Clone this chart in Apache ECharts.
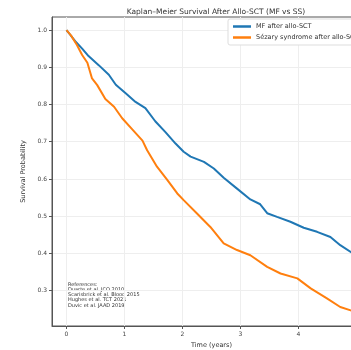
<!DOCTYPE html>
<html>
<head>
<meta charset="utf-8">
<script src="https://cdn.jsdelivr.net/npm/echarts@6/dist/echarts.min.js"></script>
<style>
  html, body { margin: 0; padding: 0; background: #fff; }
  #chart { width: 351px; height: 350px; }
</style>
</head>
<body>
<div id="chart"></div>
<script>
// time (years) / survival
var mfTime = [0, 0.05, 0.15, 0.27, 0.38, 0.56, 0.73, 0.85, 1.02, 1.19, 1.36, 1.53, 1.71, 1.88, 2.02, 2.14, 2.37, 2.54, 2.71, 2.94, 3.17, 3.34, 3.46, 3.63, 3.86, 4.09, 4.32, 4.55, 4.72, 4.9, 5.0];
var mfSurv = [1.0, 0.99, 0.97, 0.95, 0.93, 0.905, 0.88, 0.853, 0.83, 0.807, 0.79, 0.755, 0.725, 0.695, 0.673, 0.66, 0.646, 0.628, 0.603, 0.574, 0.545, 0.532, 0.508, 0.498, 0.485, 0.469, 0.458, 0.444, 0.422, 0.404, 0.395];
var ssTime = [0, 0.08, 0.18, 0.27, 0.36, 0.44, 0.53, 0.67, 0.82, 0.96, 1.13, 1.31, 1.39, 1.56, 1.74, 1.91, 2.02, 2.25, 2.48, 2.71, 2.94, 3.17, 3.46, 3.69, 3.98, 4.21, 4.49, 4.72, 4.9, 5.0];
var ssSurv = [1.0, 0.985, 0.96, 0.933, 0.912, 0.87, 0.852, 0.815, 0.794, 0.763, 0.734, 0.703, 0.677, 0.633, 0.597, 0.561, 0.543, 0.507, 0.471, 0.427, 0.409, 0.395, 0.364, 0.346, 0.333, 0.306, 0.279, 0.256, 0.247, 0.24];
var xTicks = [0, 1, 2, 3, 4, 5];
var yTicks = [0.3, 0.4, 0.5, 0.6, 0.7, 0.8, 0.9, 1.0];
var references = ['References:', 'Duarte et al. JCO 2010', 'Scarisbrick et al. Blood 2015', 'Hughes et al. TCT 2021', 'Duvic et al. JAAD 2019'];

function pairs(xs, ys) {
  return xs.map(function (x, i) { return [x, ys[i]]; });
}

var font = 'DejaVu Sans';
var chart = echarts.init(document.getElementById('chart'));
chart.setOption({
  animation: false,
  textStyle: { fontFamily: font },
  title: {
    text: 'Kaplan\u2013Meier Survival After Allo-SCT (MF vs SS)',
    left: 211, top: 3, textAlign: 'center',
    textStyle: { fontSize: 7.5, fontWeight: 'normal', color: '#333', fontFamily: font }
  },
  legend: {
    left: 228, top: 19, orient: 'vertical',
    icon: 'rect', itemWidth: 18, itemHeight: 2.5, itemGap: 4,
    padding: [4, 5], backgroundColor: '#fff',
    borderColor: '#ddd', borderWidth: 1, borderRadius: 2,
    textStyle: { fontSize: 6.5, color: '#333', fontFamily: font }
  },
  grid: {
    left: 52, top: 17, width: 319, height: 309,
    outerBoundsMode: 'none', containLabel: false,
    show: true, borderColor: '#555', borderWidth: 1
  },
  xAxis: {
    type: 'value', min: -0.25, max: 5.25,
    name: 'Time (years)', nameLocation: 'middle', nameGap: 16,
    nameTextStyle: { fontSize: 6.5, color: '#333' },
    axisLine: { onZero: false, lineStyle: { color: '#555' } },
    axisTick: { customValues: xTicks, length: 3, lineStyle: { color: '#555' } },
    axisLabel: { customValues: xTicks, fontSize: 6, color: '#444', margin: 5 },
    splitLine: { show: true, lineStyle: { color: '#eee', width: 1 } }
  },
  yAxis: {
    type: 'value', min: 0.205, max: 1.035,
    name: 'Survival Probability', nameLocation: 'middle', nameGap: 22,
    nameTextStyle: { fontSize: 6.5, color: '#333' },
    axisLine: { show: true, onZero: false, lineStyle: { color: '#555' } },
    axisTick: { show: true, customValues: yTicks, length: 3, lineStyle: { color: '#555' } },
    axisLabel: { customValues: yTicks, fontSize: 6, color: '#444', margin: 5,
      formatter: function (v) { return v.toFixed(1); } },
    splitLine: { show: true, lineStyle: { color: '#eee', width: 1 } }
  },
  graphic: [{
    type: 'text', left: 68, top: 282,
    style: { text: references.join('\n'), fontSize: 5, lineHeight: 5.2, fill: '#333', fontFamily: font }
  }],
  series: [
    { name: 'MF after allo-SCT', type: 'line', symbol: 'none',
      data: pairs(mfTime, mfSurv), lineStyle: { width: 2, color: '#1f77b4' }, itemStyle: { color: '#1f77b4' } },
    { name: 'S\u00e9zary syndrome after allo-SCT', type: 'line', symbol: 'none',
      data: pairs(ssTime, ssSurv), lineStyle: { width: 2, color: '#ff7f0e' }, itemStyle: { color: '#ff7f0e' } }
  ]
});
</script>
</body>
</html>
